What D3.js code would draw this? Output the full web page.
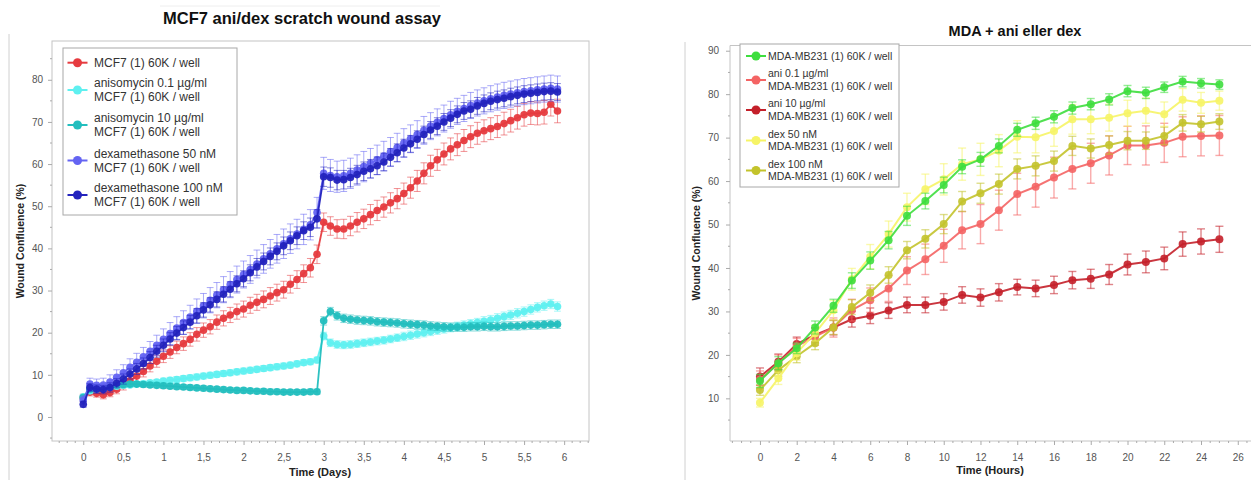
<!DOCTYPE html>
<html><head><meta charset="utf-8">
<script src="https://cdn.jsdelivr.net/npm/d3@7"></script>
<style>
body{margin:0;background:#fff;}
svg{display:block;}
text{font-family:"Liberation Sans",Arial,sans-serif;}
</style>
</head><body><svg id="c" width="1251" height="480"></svg>
<script>
// ---------- LEFT CHART DATA (MCF7, time in hours, plotted in days) ----------
const mcf7Hours = [0,2,4,6,8,10,12,14,16,18,20,22,24,26,28,30,32,34,36,38,40,42,44,46,48,50,52,54,56,58,60,62,64,66,68,70,72,74,76,78,80,82,84,86,88,90,92,94,96,98,100,102,104,106,108,110,112,114,116,118,120,122,124,126,128,130,132,134,136,138,140,142];
const mcf7Ctrl = [4.6,5.9,5.6,5.3,5.8,6.6,7.6,8.6,9.7,10.8,12.1,13.2,14.4,15.4,16.5,17.4,18.4,19.6,20.6,21.4,22.5,23.4,24.2,25.0,25.6,26.5,27.2,27.9,28.7,29.5,30.2,31.5,32.6,34.0,35.4,38.6,46.2,45.3,44.6,44.6,45.3,46.2,47.0,48.0,49.0,49.8,50.8,51.8,53.0,54.4,56.0,57.8,59.6,61.0,62.4,63.6,64.6,65.6,66.5,67.3,67.9,68.4,68.9,69.6,70.3,71.0,71.7,72.1,72.0,72.3,74.2,72.6];
const mcf7Aniso01 = [4.8,6.2,6.6,6.9,7.1,7.3,7.5,7.6,7.8,7.9,8.1,8.3,8.5,8.7,8.9,9.1,9.3,9.5,9.7,9.9,10.1,10.3,10.5,10.7,10.9,11.1,11.3,11.5,11.7,11.9,12.1,12.3,12.6,12.9,13.1,13.5,19.2,17.6,17.2,17.1,17.2,17.4,17.6,17.8,18.0,18.2,18.5,18.8,19.1,19.4,19.7,20.0,20.3,20.6,20.9,21.2,21.5,21.8,22.1,22.4,22.7,23.0,23.4,23.8,24.2,24.6,25.0,25.5,26.0,26.4,26.8,26.2];
const mcf7Aniso10 = [4.6,6.6,7.0,7.2,7.4,7.6,7.7,7.8,7.8,7.7,7.6,7.5,7.4,7.3,7.2,7.1,7.0,6.9,6.8,6.7,6.6,6.5,6.4,6.3,6.3,6.2,6.1,6.1,6.0,6.0,5.9,5.9,5.9,5.9,6.0,6.0,22.8,25.0,24.0,23.4,23.2,23.0,22.9,22.8,22.6,22.5,22.4,22.3,22.1,22.0,21.9,21.8,21.6,21.5,21.4,21.3,21.3,21.3,21.4,21.4,21.5,21.4,21.4,21.5,21.6,21.6,21.7,21.8,21.8,21.9,22.0,22.0];
const mcf7Dex50 = [4.0,7.8,7.5,7.6,8.3,9.4,10.5,11.8,13.0,14.3,15.6,17.0,18.4,19.8,21.1,22.4,23.7,25.1,26.4,27.7,28.9,30.2,31.4,32.6,33.8,35.0,36.3,37.5,38.7,39.9,41.1,42.3,43.4,44.5,45.6,48.5,57.8,57.3,57.0,57.2,57.8,58.6,59.4,60.2,61.0,61.9,62.9,63.9,65.0,66.0,67.0,68.0,69.0,69.9,70.8,71.7,72.5,73.2,73.9,74.5,75.0,75.5,75.9,76.3,76.6,76.9,77.2,77.4,77.6,77.8,78.0,77.8];
const mcf7Dex100 = [3.0,7.0,6.6,6.5,7.0,8.0,9.0,10.2,11.4,12.7,14.1,15.6,17.0,18.5,19.9,21.2,22.5,24.0,25.4,26.6,27.9,29.1,30.3,31.6,32.8,34.2,35.6,36.9,38.1,39.3,40.6,41.8,43.0,44.2,45.0,47.0,57.0,56.8,56.2,56.3,56.8,57.5,58.3,58.9,59.6,60.5,61.6,62.7,63.8,64.8,65.9,67.0,68.1,69.0,70.0,70.9,71.8,72.6,73.0,73.8,74.4,74.9,75.3,75.6,76.0,76.3,76.6,76.8,77.0,77.2,77.3,77.1];

const mcf7CtrlErr = [0.8,0.9,0.9,1.0,1.0,1.1,1.2,1.2,1.3,1.3,1.4,1.4,1.5,1.5,1.5,1.6,1.6,1.6,1.7,1.7,1.7,1.8,1.8,1.8,1.9,1.9,1.9,2.0,2.0,2.0,2.0,2.1,2.1,2.1,2.2,2.2,2.2,2.2,2.2,2.3,2.3,2.3,2.3,2.4,2.4,2.4,2.4,2.4,2.5,2.5,2.5,2.5,2.5,2.5,2.6,2.6,2.6,2.6,2.6,2.6,2.6,2.6,2.6,2.7,2.7,2.7,2.7,2.7,2.7,2.8,2.8,2.8];
const mcf7Aniso01Err = [0.5,0.6,0.6,0.6,0.6,0.6,0.6,0.6,0.6,0.6,0.6,0.6,0.7,0.7,0.7,0.7,0.7,0.7,0.7,0.7,0.7,0.7,0.7,0.7,0.7,0.7,0.7,0.7,0.7,0.7,0.7,0.7,0.7,0.7,0.7,0.7,0.9,0.9,0.9,0.9,0.9,0.9,0.9,0.9,0.9,0.9,0.9,0.9,1.0,1.0,1.0,1.0,1.0,1.0,1.0,1.0,1.0,1.0,1.0,1.0,1.1,1.1,1.1,1.1,1.1,1.1,1.1,1.1,1.1,1.1,1.1,1.1];
const mcf7Aniso10Err = [0.5,0.6,0.6,0.6,0.6,0.6,0.6,0.6,0.6,0.6,0.6,0.6,0.6,0.6,0.6,0.6,0.6,0.6,0.6,0.6,0.6,0.6,0.6,0.6,0.6,0.6,0.6,0.6,0.6,0.6,0.6,0.6,0.6,0.6,0.6,0.6,1.0,1.0,1.0,1.0,1.0,1.0,1.0,1.0,1.0,1.0,1.0,1.0,1.0,1.0,1.0,1.0,1.0,1.0,1.0,1.0,1.0,1.0,1.0,1.0,1.0,1.0,1.0,1.0,1.0,1.0,1.0,1.0,1.0,1.0,1.0,1.0];
const mcf7Dex50Err = [1.0,1.4,1.5,1.6,1.7,1.8,1.9,2.0,2.1,2.2,2.3,2.4,2.5,2.6,2.7,2.8,2.8,2.9,2.9,3.0,3.0,3.1,3.1,3.2,3.2,3.3,3.3,3.4,3.4,3.4,3.5,3.5,3.5,3.6,3.6,3.6,3.8,3.8,3.7,3.7,3.6,3.6,3.6,3.5,3.5,3.5,3.4,3.4,3.4,3.3,3.3,3.3,3.2,3.2,3.2,3.2,3.1,3.1,3.1,3.1,3.1,3.1,3.1,3.1,3.1,3.1,3.1,3.1,3.1,3.1,3.1,3.1];
const mcf7Dex100Err = [0.7,0.9,1.0,1.0,1.1,1.1,1.2,1.2,1.3,1.3,1.4,1.4,1.5,1.5,1.6,1.6,1.6,1.7,1.7,1.7,1.8,1.8,1.8,1.9,1.9,1.9,2.0,2.0,2.0,2.0,2.1,2.1,2.1,2.1,2.2,2.2,2.3,2.3,2.3,2.2,2.2,2.2,2.2,2.2,2.1,2.1,2.1,2.1,2.1,2.0,2.0,2.0,2.0,2.0,2.0,2.0,2.0,2.0,2.0,2.0,2.0,2.0,2.0,2.0,2.0,2.0,2.0,2.0,2.0,2.0,2.0,2.0];

const leftXTicks = [0,0.5,1,1.5,2,2.5,3,3.5,4,4.5,5,5.5,6];
const leftXTickLabels = ["0","0,5","1","1,5","2","2,5","3","3,5","4","4,5","5","5,5","6"];
const leftYTicks = [0,10,20,30,40,50,60,70,80];
const leftLegend = [
  ["MCF7 (1) 60K / well"],
  ["anisomycin 0.1 µg/ml","MCF7 (1) 60K / well"],
  ["anisomycin 10 µg/ml","MCF7 (1) 60K / well"],
  ["dexamethasone 50 nM","MCF7 (1) 60K / well"],
  ["dexamethasone 100 nM","MCF7 (1) 60K / well"]
];
const leftColors = ["#e63b3f","#5ff0f0","#22bebe","#6464f2","#2323bd"];

// ---------- RIGHT CHART DATA (MDA-MB231, hours) ----------
const mdaHours = [0,1,2,3,4,5,6,7,8,9,10,11,12,13,14,15,16,17,18,19,20,21,22,23,24,25];
const mdaCtrl   = [14.0,18.1,21.5,26.3,31.3,37.1,41.7,46.4,52.0,55.4,59.1,63.3,65.0,68.1,71.8,73.3,74.8,76.8,77.7,78.8,80.7,80.3,81.6,82.9,82.5,82.2];
const mdaAni01  = [14.3,18.0,22.0,24.2,26.3,30.3,32.6,35.3,39.4,42.0,45.1,48.7,50.1,53.3,57.0,58.7,60.8,62.8,64.1,65.9,68.2,68.2,68.8,70.2,70.4,70.5];
const mdaAni10  = [15.0,18.4,22.5,24.6,26.3,28.2,29.0,30.2,31.5,31.5,32.2,33.8,33.2,34.4,35.6,35.3,36.1,37.2,37.5,38.5,40.8,41.4,42.2,45.5,46.1,46.6];
const mdaDex50  = [9.0,14.6,20.4,25.0,30.3,37.4,42.6,47.8,54.0,58.1,60.4,63.9,65.0,67.0,70.2,70.1,71.5,74.2,74.2,74.6,75.6,76.2,75.4,78.7,78.0,78.5];
const mdaDex100 = [11.9,16.5,19.7,22.7,26.3,31.0,34.3,38.4,44.1,46.7,50.1,55.3,57.2,59.3,62.8,63.5,64.6,68.1,67.5,68.3,69.3,69.3,70.4,73.4,73.1,73.7];
const mdaCtrlErr   = [1.5,1.5,1.2,1.5,1.5,1.8,2.0,2.0,2.2,1.8,1.8,1.6,1.6,1.6,1.5,1.4,1.4,1.4,1.3,1.3,1.3,1.3,1.2,1.2,1.1,1.1];
const mdaAni01Err  = [2.0,2.0,1.8,2.0,2.2,2.5,2.8,3.0,3.2,3.5,3.8,4.3,4.5,4.6,4.8,4.7,4.7,4.6,4.6,4.5,4.4,4.5,4.5,4.6,4.6,4.6];
const mdaAni10Err  = [2.0,1.8,1.6,1.6,1.7,1.8,1.8,1.8,1.8,1.8,1.9,1.9,2.0,2.0,1.8,1.9,2.0,2.0,2.2,2.3,2.4,2.5,2.6,2.8,2.9,3.0];
const mdaDex50Err  = [1.0,1.4,1.6,1.8,2.2,2.5,2.8,3.0,3.2,3.5,3.6,3.7,3.7,3.7,3.7,3.6,3.5,3.4,3.3,3.1,3.0,2.9,2.8,2.6,2.4,2.2];
const mdaDex100Err = [1.2,1.4,1.5,1.5,1.6,1.7,1.8,1.9,2.0,2.1,2.2,2.3,2.3,2.3,2.3,2.3,2.3,2.2,2.2,2.1,2.1,2.0,2.0,1.9,1.8,1.8];

const rightXTicks = [0,2,4,6,8,10,12,14,16,18,20,22,24,26];
const rightYTicks = [10,20,30,40,50,60,70,80,90];
const rightLegend = [
  ["MDA-MB231 (1) 60K / well"],
  ["ani 0.1 µg/ml","MDA-MB231 (1) 60K / well"],
  ["ani 10 µg/ml","MDA-MB231 (1) 60K / well"],
  ["dex 50 nM","MDA-MB231 (1) 60K / well"],
  ["dex 100 nM","MDA-MB231 (1) 60K / well"]
];
const rightColors = ["#3ede3e","#f46464","#c4202a","#f6f466","#c3c32c"];

// ---------- DRAWING ----------
const svg = d3.select("#c");
const axisGray = "#c4c4c4";
const labelGray = "#555";

function drawSeries(g, x, y, xs, vals, errs, color, o) {
  const s = g.append("g");
  const pts = xs.map((t, i) => ({x: x(t), y: y(vals[i]), lo: y(vals[i] - errs[i]), hi: y(vals[i] + errs[i])}));
  const eg = s.append("g").attr("stroke", color).attr("stroke-opacity", o.errOp).attr("stroke-width", o.errW).attr("fill", "none");
  pts.forEach(p => {
    eg.append("line").attr("x1", p.x).attr("x2", p.x).attr("y1", p.lo).attr("y2", p.hi);
    eg.append("line").attr("x1", p.x - o.cap).attr("x2", p.x + o.cap).attr("y1", p.lo).attr("y2", p.lo);
    eg.append("line").attr("x1", p.x - o.cap).attr("x2", p.x + o.cap).attr("y1", p.hi).attr("y2", p.hi);
  });
  s.append("path").datum(pts)
    .attr("d", d3.line().x(p => p.x).y(p => p.y))
    .attr("fill", "none").attr("stroke", color).attr("stroke-width", o.lw).attr("stroke-opacity", o.op);
  s.selectAll("circle.m").data(pts).enter().append("circle")
    .attr("cx", p => p.x).attr("cy", p => p.y).attr("r", o.r)
    .attr("fill", color).attr("fill-opacity", o.op);
}

function drawLegend(g, x0, y0, w, h, items, colors, fs, rowY, markX, textX) {
  g.append("rect").attr("x", x0).attr("y", y0).attr("width", w).attr("height", h)
    .attr("fill", "#fff").attr("stroke", "#a8a8a8").attr("stroke-width", 1);
  items.forEach((lines, i) => {
    const cy = rowY[i];
    g.append("line").attr("x1", markX - 10).attr("x2", markX + 10).attr("y1", cy).attr("y2", cy)
      .attr("stroke", colors[i]).attr("stroke-width", 2);
    g.append("circle").attr("cx", markX).attr("cy", cy).attr("r", 4.5).attr("fill", colors[i]);
    const lh = fs * 1.2;
    const top = cy - (lines.length - 1) * lh / 2;
    lines.forEach((t, j) => {
      g.append("text").attr("x", textX).attr("y", top + j * lh).attr("dy", "0.35em")
        .attr("font-size", fs).attr("fill", "#333").text(t);
    });
  });
}

// ===== LEFT CHART =====
(function () {
  const L = 52, R = 589, T = 41, B = 441;
  const x = d3.scaleLinear().domain([-0.39, 6.31]).range([L, R]);
  const y = d3.scaleLinear().domain([-5.7, 89.2]).range([B, T]);
  const g = svg.append("g");

  g.append("line").attr("x1", 9).attr("x2", 9).attr("y1", 34).attr("y2", 480).attr("stroke", "#d0d0d0");
  g.append("line").attr("x1", 160).attr("x2", 440).attr("y1", 6).attr("y2", 6).attr("stroke", "#eeeeee");

  g.append("text").attr("x", 302).attr("y", 24).attr("text-anchor", "middle")
    .attr("font-size", 16.5).attr("font-weight", "bold").attr("fill", "#111")
    .text("MCF7 ani/dex scratch wound assay");

  g.append("rect").attr("x", L).attr("y", T).attr("width", R - L).attr("height", B - T)
    .attr("fill", "none").attr("stroke", axisGray);

  const minorX = d3.range(-0.3, 6.31, 0.1).filter(v => Math.abs(v * 2 - Math.round(v * 2)) > 0.01);
  g.selectAll("line.mx").data(minorX).enter().append("line")
    .attr("x1", d => x(d)).attr("x2", d => x(d)).attr("y1", B).attr("y2", B + 2).attr("stroke", "#aaa");
  const minorY = d3.range(-5, 89, 5).filter(v => v % 10 !== 0);
  g.selectAll("line.my").data(minorY).enter().append("line")
    .attr("x1", L - 2).attr("x2", L).attr("y1", d => y(d)).attr("y2", d => y(d)).attr("stroke", "#aaa");

  const xa = g.append("g").attr("transform", `translate(0,${B})`)
    .call(d3.axisBottom(x).tickValues(leftXTicks).tickSize(4).tickPadding(9)
      .tickFormat((d, i) => leftXTickLabels[i]));
  xa.select(".domain").remove();
  xa.selectAll("line").attr("stroke", "#aaa");
  xa.selectAll("text").attr("font-size", 10).attr("fill", labelGray).attr("font-family", "Liberation Sans, Arial, sans-serif");

  const ya = g.append("g").attr("transform", `translate(${L},0)`)
    .call(d3.axisLeft(y).tickValues(leftYTicks).tickSize(4).tickPadding(5));
  ya.select(".domain").remove();
  ya.selectAll("line").attr("stroke", "#aaa");
  ya.selectAll("text").attr("font-size", 10).attr("fill", labelGray).attr("font-family", "Liberation Sans, Arial, sans-serif");

  g.append("text").attr("x", 320).attr("y", 476).attr("text-anchor", "middle")
    .attr("font-size", 11).attr("font-weight", "bold").attr("fill", "#222").text("Time (Days)");
  g.append("text").attr("transform", `translate(24,${(T + B) / 2}) rotate(-90)`).attr("text-anchor", "middle")
    .attr("font-size", 10.5).attr("font-weight", "bold").attr("fill", "#222").text("Wound Confluence (%)");

  const days = mcf7Hours.map(h => h / 24);
  const opt = {r: 3.8, lw: 1.8, op: 0.95, errOp: 0.55, errW: 1, cap: 3.4};
  const plot = g.append("g");
  drawSeries(plot, x, y, days, mcf7Ctrl, mcf7CtrlErr, leftColors[0], opt);
  drawSeries(plot, x, y, days, mcf7Aniso01, mcf7Aniso01Err, leftColors[1], opt);
  drawSeries(plot, x, y, days, mcf7Aniso10, mcf7Aniso10Err, leftColors[2], opt);
  drawSeries(plot, x, y, days, mcf7Dex50, mcf7Dex50Err, leftColors[3], opt);
  drawSeries(plot, x, y, days, mcf7Dex100, mcf7Dex100Err, leftColors[4], opt);

  drawLegend(g, 63, 48, 174, 167, leftLegend, leftColors, 12,
    [62.7, 90, 125, 160.5, 195], 77.5, 94);
})();

// ===== RIGHT CHART =====
(function () {
  const L = 730, R = 1251, T = 45.5, B = 441;
  const x = d3.scaleLinear().domain([-1.63, 26.72]).range([L, R]);
  const y = d3.scaleLinear().domain([0, 91.2]).range([441.8, 45.5]);
  const g = svg.append("g");

  g.append("line").attr("x1", 685).attr("x2", 685).attr("y1", 42).attr("y2", 480).attr("stroke", "#d0d0d0");

  g.append("text").attr("x", 1015).attr("y", 36).attr("text-anchor", "middle")
    .attr("font-size", 14.5).attr("font-weight", "bold").attr("fill", "#111")
    .text("MDA + ani eller dex");

  g.append("line").attr("x1", L).attr("x2", R).attr("y1", T).attr("y2", T).attr("stroke", axisGray);
  g.append("line").attr("x1", L).attr("x2", L).attr("y1", T).attr("y2", B).attr("stroke", axisGray);
  g.append("line").attr("x1", L).attr("x2", R).attr("y1", B).attr("y2", B).attr("stroke", axisGray);

  const minorX = d3.range(-1.5, 26.7, 0.5).filter(v => v % 2 !== 0);
  g.selectAll("line.mx").data(minorX).enter().append("line")
    .attr("x1", d => x(d)).attr("x2", d => x(d)).attr("y1", B).attr("y2", B + 2).attr("stroke", "#aaa");
  const minorY = d3.range(5, 91, 5).filter(v => v % 10 !== 0);
  g.selectAll("line.my").data(minorY).enter().append("line")
    .attr("x1", L - 2).attr("x2", L).attr("y1", d => y(d)).attr("y2", d => y(d)).attr("stroke", "#aaa");

  const xa = g.append("g").attr("transform", `translate(0,${B})`)
    .call(d3.axisBottom(x).tickValues(rightXTicks).tickSize(4).tickPadding(9));
  xa.select(".domain").remove();
  xa.selectAll("line").attr("stroke", "#aaa");
  xa.selectAll("text").attr("font-size", 10).attr("fill", labelGray).attr("font-family", "Liberation Sans, Arial, sans-serif");

  const ya = g.append("g").attr("transform", `translate(${L},0)`)
    .call(d3.axisLeft(y).tickValues(rightYTicks).tickSize(4).tickPadding(7));
  ya.select(".domain").remove();
  ya.selectAll("line").attr("stroke", "#aaa");
  ya.selectAll("text").attr("font-size", 10).attr("fill", labelGray).attr("font-family", "Liberation Sans, Arial, sans-serif");

  g.append("text").attr("x", 990).attr("y", 474).attr("text-anchor", "middle")
    .attr("font-size", 11).attr("font-weight", "bold").attr("fill", "#222").text("Time (Hours)");
  g.append("text").attr("transform", `translate(700,${(T + B) / 2}) rotate(-90)`).attr("text-anchor", "middle")
    .attr("font-size", 10.5).attr("font-weight", "bold").attr("fill", "#222").text("Wound Confluence (%)");

  const opt = {r: 4, lw: 2, op: 0.9, errOp: 0.55, errW: 1.4, cap: 4};
  const plot = g.append("g");
  drawSeries(plot, x, y, mdaHours, mdaAni10, mdaAni10Err, rightColors[2], opt);
  drawSeries(plot, x, y, mdaHours, mdaAni01, mdaAni01Err, rightColors[1], opt);
  drawSeries(plot, x, y, mdaHours, mdaDex100, mdaDex100Err, rightColors[4], opt);
  drawSeries(plot, x, y, mdaHours, mdaDex50, mdaDex50Err, rightColors[3], opt);
  drawSeries(plot, x, y, mdaHours, mdaCtrl, mdaCtrlErr, rightColors[0], opt);

  drawLegend(g, 740, 44, 159, 143, rightLegend, rightColors, 10.5,
    [56, 80, 110, 140.5, 170.5], 756, 768);
})();
</script></body></html>
